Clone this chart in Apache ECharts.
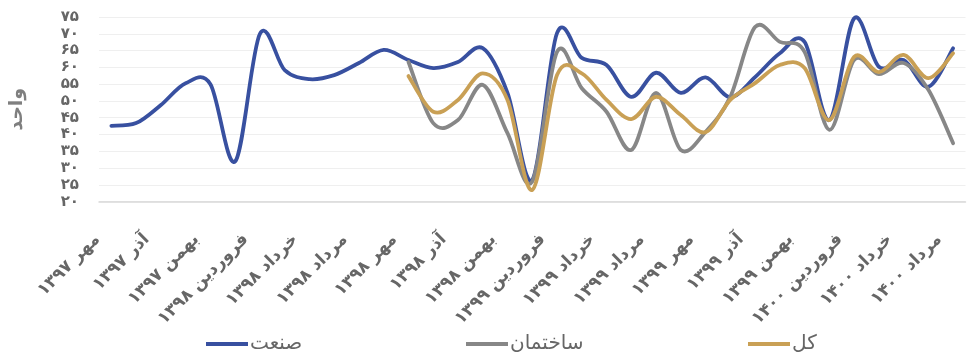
<!DOCTYPE html>
<html lang="fa">
<head>
<meta charset="utf-8">
<script src="https://cdn.jsdelivr.net/npm/echarts@6/dist/echarts.min.js"></script>
<style>
  html, body { margin: 0; padding: 0; background: #ffffff; }
  #chart { width: 979px; height: 356px; }
</style>
</head>
<body>
<div id="chart"></div>
<script>
// Monthly periods, مهر ۱۳۹۷ to مرداد ۱۴۰۰
const months = [
  'مهر ۱۳۹۷', 'آبان ۱۳۹۷', 'آذر ۱۳۹۷', 'دی ۱۳۹۷', 'بهمن ۱۳۹۷', 'اسفند ۱۳۹۷',
  'فروردین ۱۳۹۸', 'اردیبهشت ۱۳۹۸', 'خرداد ۱۳۹۸', 'تیر ۱۳۹۸', 'مرداد ۱۳۹۸', 'شهریور ۱۳۹۸',
  'مهر ۱۳۹۸', 'آبان ۱۳۹۸', 'آذر ۱۳۹۸', 'دی ۱۳۹۸', 'بهمن ۱۳۹۸', 'اسفند ۱۳۹۸',
  'فروردین ۱۳۹۹', 'اردیبهشت ۱۳۹۹', 'خرداد ۱۳۹۹', 'تیر ۱۳۹۹', 'مرداد ۱۳۹۹', 'شهریور ۱۳۹۹',
  'مهر ۱۳۹۹', 'آبان ۱۳۹۹', 'آذر ۱۳۹۹', 'دی ۱۳۹۹', 'بهمن ۱۳۹۹', 'اسفند ۱۳۹۹',
  'فروردین ۱۴۰۰', 'اردیبهشت ۱۴۰۰', 'خرداد ۱۴۰۰', 'تیر ۱۴۰۰', 'مرداد ۱۴۰۰'
];

// Index values per sector (null = no reading for that month)
const industry = [
  42.6, 43.4, 48.8, 55.3, 55.0, 32.0, 70.0, 59.2, 56.5, 57.7, 61.3, 65.2,
  62.2, 59.8, 61.6, 65.7, 52.4, 26.5, 70.2, 62.8, 60.7, 51.2, 58.4, 52.4,
  57.0, 51.1, 57.1, 64.2, 67.6, 44.3, 74.6, 60.2, 62.2, 54.2, 65.7
];
const construction = [
  null, null, null, null, null, null, null, null, null, null, null, null,
  61.6, 43.4, 44.3, 54.8, 40.4, 26.0, 64.6, 53.8, 46.8, 35.4, 52.4, 35.4,
  40.8, 51.2, 72.0, 67.6, 64.6, 41.4, 62.2, 58.0, 61.3, 53.3, 37.4
];
const total = [
  null, null, null, null, null, null, null, null, null, null, null, null,
  57.4, 46.8, 50.3, 58.2, 50.3, 23.5, 57.7, 58.2, 50.3, 44.6, 51.2, 45.8,
  40.7, 50.3, 55.3, 60.7, 59.8, 44.3, 63.1, 58.6, 63.7, 56.8, 64.2
];

const seriesNames = ['صنعت', 'ساختمان', 'کل'];
const seriesValues = [industry, construction, total];
const seriesColors = ['#3850A0', '#878787', '#C9A055'];
const yName = 'واحد';

const faDigits = '۰۱۲۳۴۵۶۷۸۹';
const toFa = (v) => String(v).replace(/\d/g, (d) => faDigits[+d]);

const textColor = '#666666';
const font = '"DejaVu Sans", "Noto Sans", sans-serif';

// Cardinal (Catmull-Rom) spline through pixel points, as an SVG path string
function splinePath(pts) {
  if (!pts.length) return '';
  let d = 'M' + pts[0][0] + ' ' + pts[0][1];
  for (let i = 0; i < pts.length - 1; i++) {
    const p0 = pts[i - 1] || pts[i];
    const p1 = pts[i];
    const p2 = pts[i + 1];
    const p3 = pts[i + 2] || p2;
    const c1x = p1[0] + (p2[0] - p0[0]) / 6;
    const c1y = p1[1] + (p2[1] - p0[1]) / 6;
    const c2x = p2[0] - (p3[0] - p1[0]) / 6;
    const c2y = p2[1] - (p3[1] - p1[1]) / 6;
    d += ' C' + c1x + ' ' + c1y + ' ' + c2x + ' ' + c2y + ' ' + p2[0] + ' ' + p2[1];
  }
  return d;
}

function makeSeries(values, i) {
  const data = [];
  values.forEach((v, k) => { if (v !== null) data.push([k, v]); });
  return {
    name: seriesNames[i],
    type: 'custom',
    data: data,
    encode: { x: 0, y: 1 },
    z: 2 + i,
    itemStyle: { color: seriesColors[i] },
    renderItem: (params, api) => {
      if (params.dataIndex !== 0) return null;
      const pts = data.map((item) => api.coord(item));
      return {
        type: 'path',
        shape: { pathData: splinePath(pts) },
        style: {
          fill: 'none',
          stroke: seriesColors[i],
          lineWidth: 3.8,
          lineCap: 'round',
          lineJoin: 'round'
        }
      };
    }
  };
}

const chart = echarts.init(document.getElementById('chart'), null, { renderer: 'canvas' });

const legendLeft = [201, 461, 743];

chart.setOption({
  animation: false,
  backgroundColor: '#ffffff',
  grid: { left: 92.5, right: 13.5, top: 17, bottom: 154.3, containLabel: false },
  legend: seriesNames.map((name, i) => ({
    data: [name],
    left: legendLeft[i],
    top: 329,
    itemWidth: 42,
    itemHeight: 4,
    icon: 'rect',
    itemGap: 0,
    textStyle: { color: textColor, fontSize: 20, fontFamily: font, padding: [0, 0, 0, -3] }
  })),
  xAxis: {
    type: 'category',
    data: months,
    boundaryGap: true,
    axisLine: { lineStyle: { color: '#D9D9D9', width: 1.5 } },
    axisTick: { show: false },
    axisLabel: {
      interval: 1,
      rotate: 45,
      margin: 21,
      padding: [0, 20, 0, 0],
      color: textColor,
      fontSize: 17,
      fontWeight: 'bold',
      fontFamily: font
    }
  },
  yAxis: {
    type: 'value',
    min: 20,
    max: 75,
    interval: 5,
    name: yName,
    nameLocation: 'middle',
    nameRotate: 90,
    nameGap: 72,
    nameTextStyle: { color: '#7F7F7F', fontSize: 19, fontWeight: 'bold', fontFamily: font },
    axisLine: { show: false },
    axisTick: { show: false },
    splitLine: { lineStyle: { color: '#EFEFEF', width: 1.2 } },
    axisLabel: {
      margin: 20,
      color: textColor,
      fontSize: 15,
      fontWeight: 'bold',
      fontFamily: font,
      formatter: (v) => toFa(v)
    }
  },
  series: seriesValues.map(makeSeries)
});
</script>
</body>
</html>
